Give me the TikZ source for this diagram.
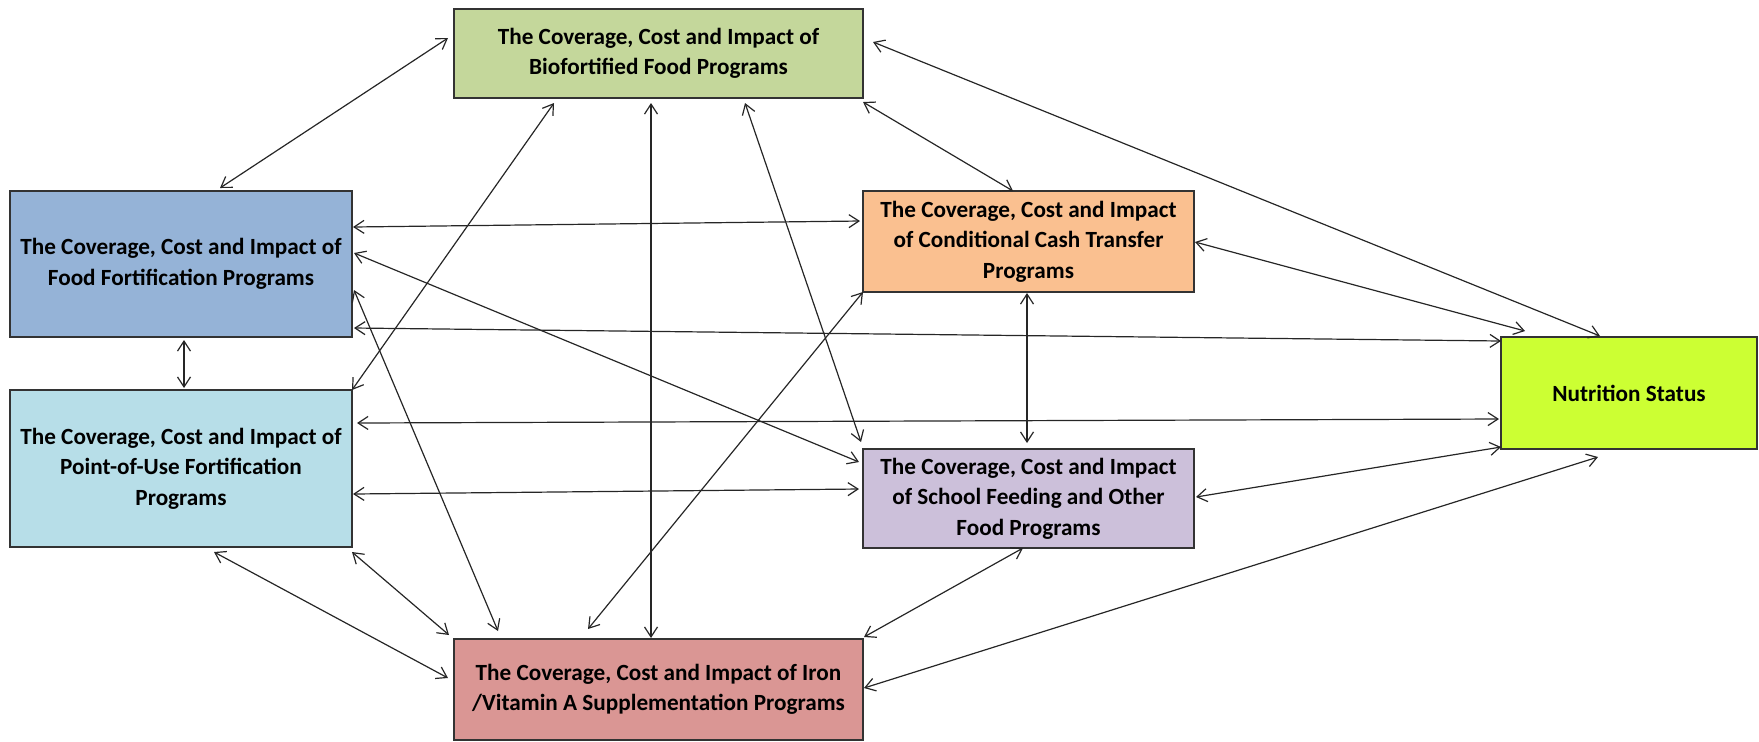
\documentclass[tikz,border=0pt]{standalone}
\usepackage{fontspec}
\setmainfont{Carlito}
\usetikzlibrary{arrows.meta,calc}

\definecolor{bioGreen}{HTML}{C4D79B}
\definecolor{fortBlue}{HTML}{95B3D7}
\definecolor{pouBlue}{HTML}{B7DEE8}
\definecolor{cashOrange}{HTML}{FAC090}
\definecolor{schoolLilac}{HTML}{CCC0DA}
\definecolor{statusLime}{HTML}{CCFF33}
\definecolor{ironRose}{HTML}{DA9694}
\definecolor{edgeGrey}{HTML}{333333}

\begin{document}
\begin{tikzpicture}[x=0.5pt,y=-0.5pt,
  progbox/.style={draw=edgeGrey, line width=0.9pt, rectangle, outer sep=0pt,
    inner sep=0pt, align=center,
    font=\fontsize{11.6pt}{15.3pt}\selectfont\bfseries},
  link/.style={draw=black!85, line width=0.6pt,
    {Straight Barb[length=5pt,width=6.5pt]}-{Straight Barb[length=5pt,width=6.5pt]}}]
\useasboundingbox (0,0) rectangle (1759,741);

% programme boxes (sizes in pt: half of the pixel grid)
\node[progbox, fill=bioGreen, minimum width=204.5pt, minimum height=44.5pt]
  (bio) at (658.5,53.5) {The Coverage, Cost and Impact of\\Biofortified Food Programs};
\node[progbox, fill=fortBlue, minimum width=171pt, minimum height=73pt]
  (food) at (181,264) {The Coverage, Cost and Impact of\\Food Fortification Programs};
\node[progbox, fill=pouBlue, minimum width=171pt, minimum height=78.5pt]
  (pou) at (181,468.5) {The Coverage, Cost and Impact of\\Point-of-Use Fortification\\Programs};
\node[progbox, fill=cashOrange, minimum width=165.5pt, minimum height=50.5pt]
  (cct) at (1028.5,241.5) {The Coverage, Cost and Impact\\of Conditional Cash Transfer\\Programs};
\node[progbox, fill=schoolLilac, minimum width=165.5pt, minimum height=49.5pt]
  (school) at (1028.5,498.5) {The Coverage, Cost and Impact\\of School Feeding and Other\\Food Programs};
\node[progbox, fill=statusLime, minimum width=128pt, minimum height=56pt]
  (nut) at (1629,393) {Nutrition Status};
\node[progbox, fill=ironRose, minimum width=204.5pt, minimum height=50.5pt]
  (iron) at (658.5,689.5) {The Coverage, Cost and Impact of Iron\\/Vitamin A Supplementation Programs};

% two-way links between the programmes and nutrition status
\draw[link] ($(bio.west)+(-6,-15.5)$) -- ($(food.north)+(39,-3)$);
\draw[link] ($(bio.east)+(10,-11.5)$) -- ($(nut.north)+(-29,-1)$);
\draw[link] ($(bio.south east)+(0,4)$) -- ($(cct.north)+(-15.5,0)$);
\draw[link] ($(bio.south west)+(100,5)$) -- (pou.north east);
\draw[link] ($(bio.south)+(-7.5,5)$) -- ($(iron.north)+(-7.5,-1)$);
\draw[link] ($(bio.south)+(86.5,5)$) -- ($(school.north west)+(-2,-7)$);

\draw[link] ($(food.east)+(1,-37)$) -- ($(cct.west)+(-3,-20.5)$);
\draw[link] ($(food.east)+(2,-11)$) -- ($(school.north west)+(-4,13)$);
\draw[link] ($(food.south east)+(2,-9)$) -- ($(nut.north west)+(0,4)$);
\draw[link] ($(food.east)+(2,26)$) -- ($(iron.north west)+(44,-8)$);
\draw[link] ($(food.south)+(3,3)$) -- ($(pou.north)+(3,-2)$);

\draw[link] ($(pou.north east)+(5,33)$) -- ($(nut.west)+(-2,26)$);
\draw[link] ($(pou.east)+(1,25.5)$) -- ($(school.west)+(-4,-9.5)$);
\draw[link] ($(pou.south)+(33,5)$) -- ($(iron.west)+(-6,-11.5)$);
\draw[link] ($(pou.south east)+(0,5)$) -- ($(iron.north west)+(-5,-4)$);

\draw[link] (cct.south west) -- ($(iron.north)+(-70.5,-10)$);
\draw[link] ($(cct.south)+(-1.5,1)$) -- ($(school.north)+(-1.5,-6)$);
\draw[link] ($(cct.east)+(1,0.5)$) -- ($(nut.north west)+(24,-6)$);

\draw[link] ($(school.east)+(2,-1.5)$) -- ($(nut.south west)+(0,-2)$);
\draw[link] ($(school.south)+(-5.5,0)$) -- ($(iron.north east)+(1,-2)$);

\draw[link] ($(iron.east)+(1,-1.5)$) -- ($(nut.south)+(-31,8)$);
\end{tikzpicture}
\end{document}
